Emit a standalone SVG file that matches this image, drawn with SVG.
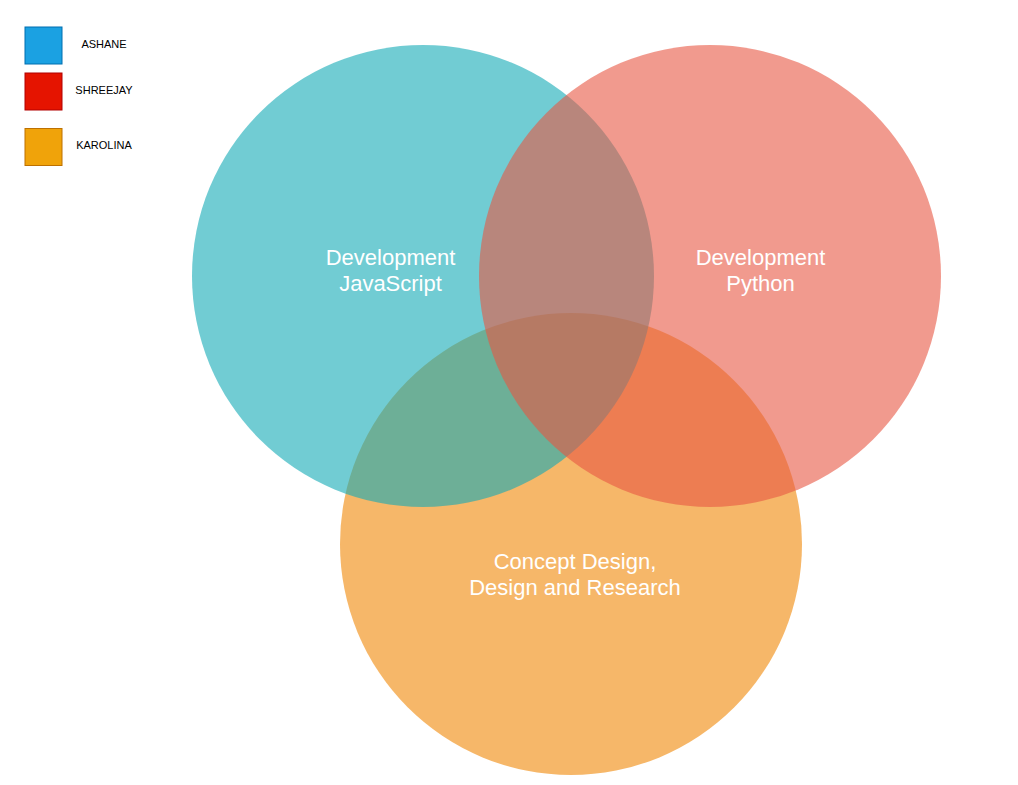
<svg xmlns="http://www.w3.org/2000/svg" width="1018" height="785" viewBox="0 0 1018 785">
<style>
.venn{opacity:0.6}
.vt{font-family:"Liberation Sans",Arial,sans-serif;font-size:22px;fill:#ffffff;text-anchor:middle}
.lt{font-family:"Liberation Sans",Arial,sans-serif;font-size:11px;fill:#000000;text-anchor:middle}
</style>
<rect width="1018" height="785" fill="#ffffff"/>
<g id="legend-ashane">
<rect x="25" y="27" width="37" height="37" fill="#1BA1E2" stroke="#006EAF"/>
<text class="lt" x="104" y="48">ASHANE</text>
</g>
<g id="legend-shreejay">
<rect x="25" y="73" width="37" height="37" fill="#E51400" stroke="#B20000"/>
<text class="lt" x="104" y="94">SHREEJAY</text>
</g>
<g id="legend-karolina">
<rect x="25" y="128.5" width="37" height="37" fill="#F0A30A" stroke="#BD7000"/>
<text class="lt" x="104" y="149">KAROLINA</text>
</g>
<g id="circle-design">
<circle class="venn" cx="571" cy="544" r="231" fill="#F08705"/>
</g>
<g id="circle-js">
<circle class="venn" cx="423" cy="276" r="231" fill="#12AAB5"/>
</g>
<g id="circle-python">
<circle class="venn" cx="710" cy="276" r="231" fill="#E85642"/>
</g>
<g id="labels">
<text class="vt" x="390.5" y="264.5">Development</text>
<text class="vt" x="390.5" y="291">JavaScript</text>
<text class="vt" x="760.5" y="264.5">Development</text>
<text class="vt" x="760.5" y="291">Python</text>
<text class="vt" x="575" y="568.5">Concept Design,</text>
<text class="vt" x="575" y="595">Design and Research</text>
</g>
<g id="connectors"></g>
</svg>
